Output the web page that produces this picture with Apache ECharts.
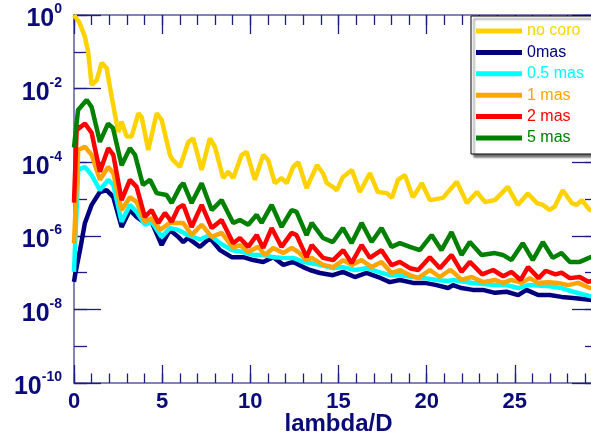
<!DOCTYPE html>
<html>
<head>
<meta charset="utf-8">
<script src="https://cdn.jsdelivr.net/npm/echarts@6/dist/echarts.min.js"></script>
<style>
  html, body { margin: 0; padding: 0; background: #fff; }
  #chart { width: 591px; height: 436px; }
</style>
</head>
<body>
<div id="chart"></div>
<script>
// [lambda/D, log10(contrast)]
var noCoro = [[0,0],[0.3,-0.2],[0.62,-0.59],[0.81,-1.03],[1.0,-1.9],[1.29,-1.77],[1.57,-1.3],[1.85,-1.44],[2.14,-2.23],[2.51,-3.18],[2.70,-2.9],[2.99,-3.3],[3.27,-3.3],[3.65,-2.67],[3.84,-2.78],[4.21,-3.67],[4.69,-2.67],[4.97,-2.85],[5.44,-3.8],[5.6,-3.94],[6.01,-4.13],[6.48,-3.45],[6.76,-3.35],[7.24,-4.21],[7.71,-3.35],[7.99,-3.58],[8.46,-4.43],[8.74,-4.26],[9.03,-4.43],[9.51,-3.8],[9.79,-3.72],[10.26,-4.48],[10.73,-3.8],[11.01,-3.94],[11.39,-4.57],[11.77,-4.43],[12.06,-4.57],[12.43,-4.13],[12.72,-4.0],[13.19,-4.7],[13.78,-4.08],[14.12,-4.3],[14.34,-4.57],[14.68,-4.67],[14.91,-4.76],[15.25,-4.4],[15.76,-4.21],[16.21,-4.81],[16.78,-4.3],[17.23,-4.81],[17.74,-4.84],[18.03,-4.97],[18.37,-4.48],[18.76,-4.35],[19.22,-4.95],[19.73,-4.57],[20.18,-5.03],[20.92,-4.97],[21.71,-4.53],[22.28,-5.11],[22.85,-4.81],[23.30,-5.08],[23.87,-5.03],[24.60,-4.67],[25.17,-5.16],[25.74,-4.85],[26.25,-5.11],[26.59,-5.16],[26.98,-5.3],[27.27,-5.2],[27.72,-4.76],[28.23,-5.11],[28.51,-5.16],[28.80,-5.03],[29.25,-5.3],[29.6,-5.3]];

var mas0 = [[0,-7.25],[0.06,-7.07],[0.34,-6.39],[0.62,-5.65],[1.0,-5.16],[1.47,-4.81],[1.85,-4.76],[2.23,-4.95],[2.70,-5.76],[3.17,-5.3],[3.55,-5.49],[4.02,-5.65],[4.40,-5.62],[4.97,-6.25],[5.44,-5.84],[5.91,-6.03],[6.20,-6.17],[6.46,-6.06],[7.14,-6.3],[7.71,-6.06],[8.28,-6.39],[8.94,-6.58],[9.60,-6.58],[10.16,-6.66],[10.73,-6.71],[11.30,-6.58],[11.87,-6.79],[12.43,-6.71],[13.0,-6.85],[13.38,-6.93],[13.95,-7.01],[14.68,-7.07],[15.25,-6.98],[15.93,-7.12],[16.59,-7.01],[17.25,-7.12],[17.91,-7.26],[18.48,-7.2],[19.23,-7.28],[19.90,-7.28],[20.56,-7.34],[21.22,-7.42],[21.49,-7.34],[21.98,-7.42],[22.62,-7.47],[23.19,-7.47],[23.87,-7.55],[24.53,-7.52],[25.19,-7.61],[25.66,-7.47],[26.32,-7.61],[26.98,-7.61],[27.65,-7.66],[28.31,-7.69],[29.25,-7.74],[29.6,-7.76]];

var mas05 = [[0,-6.98],[0.24,-4.2],[0.62,-4.13],[1.0,-4.35],[1.47,-4.76],[1.94,-4.48],[2.23,-4.62],[2.70,-5.62],[3.17,-5.16],[3.55,-5.35],[4.02,-5.7],[4.40,-5.62],[4.97,-6.03],[5.44,-5.79],[5.91,-5.84],[6.46,-5.98],[7.14,-6.1],[7.71,-5.98],[8.28,-6.2],[8.94,-6.39],[9.60,-6.44],[10.16,-6.52],[10.73,-6.52],[11.30,-6.58],[11.87,-6.6],[12.43,-6.6],[13.0,-6.71],[13.38,-6.74],[13.95,-6.79],[14.68,-6.88],[15.25,-6.85],[15.93,-6.93],[16.59,-6.88],[17.25,-6.98],[17.91,-7.07],[18.48,-7.07],[19.23,-7.12],[19.90,-7.15],[20.56,-7.2],[21.22,-7.23],[21.49,-7.2],[22.62,-7.28],[23.87,-7.34],[24.53,-7.34],[25.19,-7.42],[25.74,-7.34],[26.98,-7.37],[27.65,-7.42],[28.31,-7.52],[29.25,-7.64],[29.6,-7.66]];

var mas1 = [[0,-6.2],[0.24,-3.67],[0.62,-3.58],[1.0,-3.8],[1.47,-4.48],[1.94,-4.13],[2.23,-4.3],[2.70,-5.3],[3.17,-4.95],[3.55,-5.08],[4.02,-5.62],[4.40,-5.52],[4.88,-5.84],[5.44,-5.65],[5.91,-5.65],[6.20,-5.65],[6.67,-5.98],[7.24,-5.7],[7.81,-6.03],[8.37,-5.92],[9.03,-6.33],[9.41,-6.25],[9.88,-6.44],[10.45,-6.3],[10.83,-6.52],[11.30,-6.33],[11.87,-6.47],[12.34,-6.33],[12.72,-6.44],[13.19,-6.66],[13.48,-6.6],[14.13,-6.79],[14.70,-6.85],[15.27,-6.66],[15.74,-6.79],[16.31,-6.66],[16.88,-6.85],[17.44,-6.71],[18.01,-7.01],[18.48,-6.93],[19.05,-7.07],[19.52,-7.15],[20.18,-6.93],[20.75,-7.12],[21.32,-6.93],[21.49,-6.98],[21.98,-7.2],[22.55,-7.12],[23.20,-7.26],[23.87,-7.2],[24.34,-7.28],[24.81,-7.2],[25.38,-7.28],[25.85,-7.15],[26.32,-7.28],[26.89,-7.26],[27.45,-7.28],[28.02,-7.34],[28.59,-7.28],[29.25,-7.42],[29.6,-7.42]];

var mas2 = [[0,-5.1],[0.15,-3.13],[0.62,-2.95],[1.0,-3.2],[1.47,-4.26],[1.94,-3.62],[2.23,-3.8],[2.70,-5.03],[3.17,-4.48],[3.55,-4.67],[4.02,-5.49],[4.40,-5.3],[4.78,-5.65],[5.16,-5.38],[5.54,-5.62],[5.91,-5.24],[6.20,-5.16],[6.67,-5.76],[7.24,-5.16],[7.81,-5.79],[8.37,-5.57],[9.03,-6.2],[9.41,-6.06],[9.88,-6.3],[10.36,-5.98],[10.73,-6.33],[11.21,-5.79],[11.77,-6.3],[12.34,-5.92],[12.62,-5.98],[13.19,-6.58],[13.48,-6.25],[14.13,-6.6],[14.70,-6.66],[15.27,-6.39],[15.74,-6.74],[16.31,-6.25],[16.78,-6.6],[17.44,-6.39],[18.01,-6.8],[18.48,-6.71],[19.05,-6.88],[19.52,-6.93],[20.18,-6.58],[20.75,-6.88],[21.41,-6.52],[21.98,-6.98],[22.45,-6.71],[23.15,-7.05],[23.77,-6.93],[24.34,-7.1],[24.81,-6.98],[25.33,-7.2],[25.75,-6.85],[26.35,-7.15],[26.75,-6.95],[27.3,-7.05],[27.65,-7.0],[28.12,-7.15],[28.68,-7.12],[29.16,-7.25],[29.6,-7.2]];

var mas5 = [[0,-3.6],[0.23,-2.58],[0.72,-2.31],[1.0,-2.5],[1.47,-3.45],[1.93,-2.95],[2.21,-3.07],[2.70,-4.08],[3.17,-3.62],[3.46,-3.8],[3.91,-4.62],[4.31,-4.48],[4.69,-4.84],[5.25,-4.89],[5.54,-5.11],[6.01,-4.67],[6.20,-4.57],[6.67,-5.11],[7.24,-4.57],[7.81,-5.3],[8.37,-5.03],[9.03,-5.65],[9.41,-5.57],[9.88,-5.7],[10.36,-5.43],[10.64,-5.65],[11.21,-5.16],[11.77,-5.76],[12.34,-5.3],[12.62,-5.35],[13.19,-5.98],[13.48,-5.65],[14.12,-6.06],[14.68,-6.17],[15.25,-5.79],[15.74,-6.2],[16.31,-5.65],[16.88,-6.17],[17.44,-5.79],[18.01,-6.3],[18.48,-6.2],[19.05,-6.3],[19.61,-6.39],[20.28,-5.98],[20.84,-6.39],[21.41,-5.9],[21.98,-6.52],[22.45,-6.17],[23.11,-6.52],[23.87,-6.47],[24.32,-6.52],[24.81,-6.66],[25.45,-6.2],[26.02,-6.66],[26.59,-6.17],[27.15,-6.6],[27.65,-6.47],[28.12,-6.71],[28.68,-6.71],[29.31,-6.58],[29.6,-6.55]];

var seriesNames = ['no coro', '0mas', '0.5 mas', '1 mas', '2 mas', '5 mas'];
var seriesData = [noCoro, mas0, mas05, mas1, mas2, mas5];

var colors = ['#ffd200', '#00007e', '#00ffff', '#ffa500', '#ff0000', '#008000'];
var navy = '#0a0a78';
var frame = '#5a5aa0';
var tickColor = '#1c1c84';
var font = 'Liberation Sans';

var chart = echarts.init(document.getElementById('chart'), null, { renderer: 'canvas' });

var series = [];
for (var i = 0; i < seriesNames.length; i++) {
    series.push({
        name: seriesNames[i],
        type: 'line',
        data: seriesData[i],
        showSymbol: false,
        symbol: 'none',
        xAxisIndex: 0,
        yAxisIndex: 0,
        itemStyle: { color: colors[i] },
        lineStyle: { color: colors[i], width: 4.5 }
    });
}

var legendData = seriesNames.map(function (n, i) {
    return { name: n, textStyle: { color: colors[i] } };
});

// one axis per tick size: major ticks and minor ticks are separate stacked axes
function xAxisCfg(pos, step, len, showLine) {
    return {
        type: 'value',
        position: pos,
        min: 0,
        max: 30,
        interval: step,
        axisLine: { show: showLine, onZero: false, lineStyle: { color: frame, width: 1.5 } },
        axisTick: { show: true, inside: true, length: len, lineStyle: { color: tickColor, width: 1.3 } },
        minorTick: { show: false },
        splitLine: { show: false },
        axisLabel: { show: false }
    };
}

function yAxisCfg(pos, step, len, showLine) {
    return {
        type: 'value',
        position: pos,
        min: -10,
        max: 0,
        interval: step,
        axisLine: { show: showLine, onZero: false, lineStyle: { color: frame, width: 1.5 } },
        axisTick: { show: true, inside: true, length: len, lineStyle: { color: tickColor, width: 1.3 } },
        minorTick: { show: false },
        splitLine: { show: false },
        axisLabel: { show: false }
    };
}

var bottomX = xAxisCfg('bottom', 5, 18, true);
bottomX.axisLabel = {
    show: true,
    margin: 8,
    fontSize: 22,
    fontWeight: 'bold',
    fontFamily: font,
    color: navy,
    showMinLabel: true,
    showMaxLabel: false
};
bottomX.name = 'lambda/D';
bottomX.nameLocation = 'middle';
bottomX.nameGap = 29;
bottomX.nameMoveOverlap = false;
bottomX.nameTextStyle = { fontSize: 24, fontWeight: 'bold', fontFamily: font, color: navy };

var leftY = yAxisCfg('left', 2, 27, true);
leftY.axisLabel = {
    show: true,
    margin: 12,
    padding: [9, 0, 0, 0],
    showMinLabel: true,
    showMaxLabel: true,
    formatter: function (v) { return '{b|10}{s|' + v + '}'; },
    rich: {
        b: { fontSize: 25, fontWeight: 'bold', fontFamily: font, color: navy, lineHeight: 34 },
        s: { fontSize: 14, fontWeight: 'bold', fontFamily: font, color: navy, lineHeight: 14, verticalAlign: 'top' }
    }
};

var option = {
    animation: false,
    backgroundColor: '#fff',
    grid: { left: 74, top: 15, width: 529, height: 368, containLabel: false, outerBoundsMode: 'none' },
    xAxis: [
        bottomX,
        xAxisCfg('bottom', 1, 9.5, false),
        xAxisCfg('top', 5, 19, true),
        xAxisCfg('top', 1, 10, false)
    ],
    yAxis: [
        leftY,
        yAxisCfg('left', 1, 13, false),
        yAxisCfg('right', 2, 31, true),
        yAxisCfg('right', 1, 18, false)
    ],
    legend: {
        orient: 'vertical',
        left: 471,
        top: 16,
        padding: [7, 12, 8, 5],
        itemWidth: 46,
        itemHeight: 5,
        itemGap: 5.4,
        icon: 'rect',
        backgroundColor: '#fff',
        borderColor: '#000',
        borderWidth: 1,
        borderRadius: 0,
        shadowColor: 'rgba(0,0,0,0.55)',
        shadowBlur: 2,
        shadowOffsetX: 3,
        shadowOffsetY: 3,
        textStyle: { fontSize: 16, fontFamily: font, lineHeight: 16 },
        data: legendData
    },
    series: series
};

chart.setOption(option);
window.addEventListener('resize', chart.resize);
</script>
</body>
</html>
